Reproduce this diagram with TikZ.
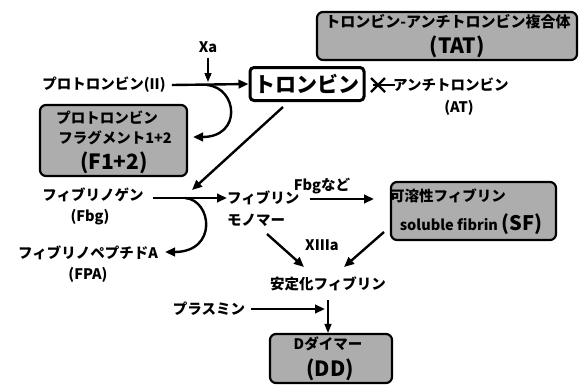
\documentclass[tikz,border=0pt]{standalone}
\usepackage{fontspec}
\setmainfont{Noto Sans CJK JP}
\usetikzlibrary{arrows.meta}
\tikzset{
  lbl/.style={font=\bfseries\fontsize{14.5}{16}\selectfont, inner sep=0pt},
  big/.style={font=\bfseries\fontsize{21}{23}\selectfont, inner sep=0pt},
  gbox/.style={draw, line width=2.2pt, rounded corners=6pt, fill=black!32, inner sep=0pt},
  wbox/.style={draw, line width=3pt, rounded corners=4pt, fill=white, inner sep=0pt},
  arr/.style={line width=2.4pt, -{Triangle[length=10pt,width=8.5pt]}},
  tarr/.style={line width=1.4pt, -{Triangle[length=9pt,width=7pt]}},
}
\begin{document}
\begin{tikzpicture}[x=1pt,y=-1pt]
\useasboundingbox (0,0) rectangle (579,384);

% boxes
\node[gbox, minimum width=260pt, minimum height=48pt] (tat) at (447,36) {};
\node[lbl, font=\bfseries\fontsize{15}{16}\selectfont] (tat1) at (448,22) {トロンビン-アンチトロンビン複合体};
\node[big] (tat2) at (457,47) {(TAT)};

\node[wbox, minimum width=114pt, minimum height=33pt] (thr) at (307,84) {};
\node[inner sep=0pt, font=\bfseries\fontsize{21}{23}\selectfont] (thrt) at (307,84) {トロンビン};

\node[gbox, minimum width=147pt, minimum height=71pt] (f12) at (113.5,140.5) {};
\node[lbl] (f12a) at (107,118) {プロトロンビン};
\node[lbl] (f12b) at (115,138) {フラグメント1+2};
\node[big] (f12c) at (114,163) {(F1+2)};

\node[gbox, minimum width=165pt, minimum height=58pt] (sf) at (473.5,211) {};
\node[lbl] (sfa) at (448,196) {可溶性フィブリン};
\node[lbl] (sfb) at (471,224) {soluble fibrin {\fontsize{20}{22}\selectfont (SF)}};

\node[gbox, minimum width=122pt, minimum height=49pt] (dd) at (331,358.5) {};
\node[lbl] (dda) at (328,344) {Dダイマー};
\node[big] (ddb) at (330,370) {(DD)};

% labels
\node[lbl] (xa) at (208,47) {Xa};
\node[lbl] (pro) at (104,85) {プロトロンビン(II)};
\node[lbl, anchor=west] (at) at (393,85) {アンチトロンビン};
\node[lbl] (at2) at (459,108) {(AT)};
\node[lbl] (fbg) at (93,195) {フィブリノゲン};
\node[lbl] (fbg2) at (90,217) {(Fbg)};
\node[lbl] (fpa) at (88,253) {フィブリノペプチドA};
\node[lbl] (fpa2) at (88,275) {(FPA)};
\node[lbl, anchor=west] (fm1) at (227,198) {フィブリン};
\node[lbl, anchor=west] (fm2) at (227,220) {モノマー};
\node[lbl] (fbgn) at (322,186) {Fbgなど};
\node[lbl] (x13) at (322,245) {XIIIa};
\node[lbl] (stab) at (328,284) {安定化フィブリン};
\node[lbl] (pls) at (209,309) {プラスミン};

% coordinates
\coordinate (xaE) at (208,82);
\coordinate (c1) at (207,85);
\coordinate (c1e) at (193,137);
\coordinate (c2) at (185,198);
\coordinate (c2e) at (165,252);
\coordinate (sfE) at (374,199);
\coordinate (plsE) at (325,309);
\coordinate (vt) at (328,300);

% connectors
\draw[tarr] (xa.south) ++(0,5) -- (xaE);
\draw[arr] (pro.east) ++(6,0) -- (thr.west);
\draw[arr] (c1) .. controls (238,88) and (242,137) .. (c1e);
\draw[arr] (283,107) -- (192,190);
\draw[arr] (153,198) -- (fm1.west);
\draw[arr] (c2) .. controls (212,200) and (218,252) .. (c2e);
\draw[arr] (fm1.east) ++(10,1) -- (sfE);
\draw[arr] (267,234) -- (304,267);
\draw[arr] (384,232) -- (344,267);
\draw[arr] (pls.east) ++(6,0) -- (plsE);
\draw[tarr] (vt) -- (dd.north -| vt);

% inhibition mark
\draw[line width=2.4pt] (thr.east) ++(7,1) -- ++(22,0);
\draw[line width=2.4pt] (371,78) -- (385,92) (371,92) -- (385,78);
\end{tikzpicture}
\end{document}
